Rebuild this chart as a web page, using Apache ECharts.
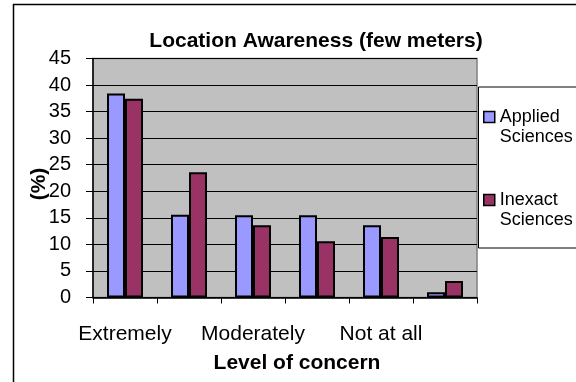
<!DOCTYPE html>
<html>
<head>
<meta charset="utf-8">
<script src="https://cdn.jsdelivr.net/npm/echarts@6/dist/echarts.min.js"></script>
<style>
html,body{margin:0;padding:0;background:#fff;}
#chart{width:576px;height:382px;}
</style>
</head>
<body>
<div id="chart"></div>
<script>
// Share of respondents (%) by level of concern about location awareness
const categories = ['Extremely', '', 'Moderately', '', 'Not at all', ''];
const appliedSciences = [38.4, 15.6, 15.5, 15.5, 13.6, 1.0];
const inexactSciences = [37.4, 23.6, 13.6, 10.6, 11.4, 3.1];
const seriesNames = ['Applied\nSciences', 'Inexact\nSciences'];

const FONT = '"Liberation Sans", Arial, sans-serif';
const chart = echarts.init(document.getElementById('chart'));

chart.setOption({
  animation: false,
  backgroundColor: '#ffffff',
  textStyle: { fontFamily: FONT, color: '#000' },
  title: {
    text: 'Location Awareness (few meters)',
    left: 311, top: 26, textAlign: 'center',
    textStyle: { fontFamily: FONT, fontSize: 21, fontWeight: 'bold', color: '#000' }
  },
  graphic: [
    // outer chart frame (top and left edges visible)
    { type: 'line', shape: { x1: 13, y1: 4.5, x2: 580, y2: 4.5 }, style: { stroke: '#000', lineWidth: 1.5 } },
    { type: 'line', shape: { x1: 13.5, y1: 4, x2: 13.5, y2: 390 }, style: { stroke: '#000', lineWidth: 1.5 } },
    // legend box
    { type: 'rect', shape: { x: 478.5, y: 87, width: 120, height: 161 }, style: { fill: '#fff', stroke: '#000', lineWidth: 1 }, z: 1 }
  ],
  legend: {
    orient: 'vertical',
    left: 483, top: 87, padding: 0,
    itemWidth: 11, itemHeight: 11, itemGap: 23,
    icon: 'rect',
    itemStyle: { borderColor: '#000', borderWidth: 1.5 },
    // an empty leading line keeps the marker level with the first word
    formatter: name => ' \n' + name,
    textStyle: { fontFamily: FONT, fontSize: 18, color: '#000', lineHeight: 20 },
    data: seriesNames,
    z: 5
  },
  grid: {
    left: 93, top: 58.5, right: 99, bottom: 84.5,
    show: true, backgroundColor: '#C0C0C0', borderColor: '#808080', borderWidth: 1.5
  },
  xAxis: {
    type: 'category',
    data: categories,
    name: 'Level of concern',
    nameLocation: 'middle',
    nameGap: 55,
    nameMoveOverlap: false,
    nameTextStyle: { fontFamily: FONT, fontSize: 21, fontWeight: 'bold', color: '#000', padding: [0, 0, 0, 24] },
    axisLine: { lineStyle: { color: '#000', width: 1.5 } },
    axisTick: { show: true, interval: 0, length: 6, lineStyle: { color: '#000' } },
    axisLabel: { interval: 0, margin: 26, fontFamily: FONT, fontSize: 21, color: '#000' },
    splitLine: { show: false }
  },
  yAxis: {
    type: 'value',
    min: 0, max: 45, interval: 5,
    name: '(%)',
    nameLocation: 'middle',
    nameGap: 43,
    nameRotate: 90,
    nameMoveOverlap: false,
    nameTextStyle: { fontFamily: FONT, fontSize: 21, fontWeight: 'bold', color: '#000', padding: [0, 12, 0, 0] },
    axisLine: { show: true, lineStyle: { color: '#000', width: 1.5 } },
    axisTick: { show: true, length: 7, lineStyle: { color: '#000' } },
    axisLabel: { margin: 22, fontFamily: FONT, fontSize: 20, color: '#000' },
    splitLine: { show: true, lineStyle: { color: '#000', width: 1.2 } }
  },
  series: [
    {
      name: seriesNames[0], type: 'bar', data: appliedSciences,
      barWidth: 18, barGap: '0%',
      itemStyle: { color: '#9999FF', borderColor: '#000', borderWidth: 2 }
    },
    {
      name: seriesNames[1], type: 'bar', data: inexactSciences,
      barWidth: 18, barGap: '0%',
      itemStyle: { color: '#993366', borderColor: '#000', borderWidth: 2 }
    }
  ]
});
</script>
</body>
</html>
